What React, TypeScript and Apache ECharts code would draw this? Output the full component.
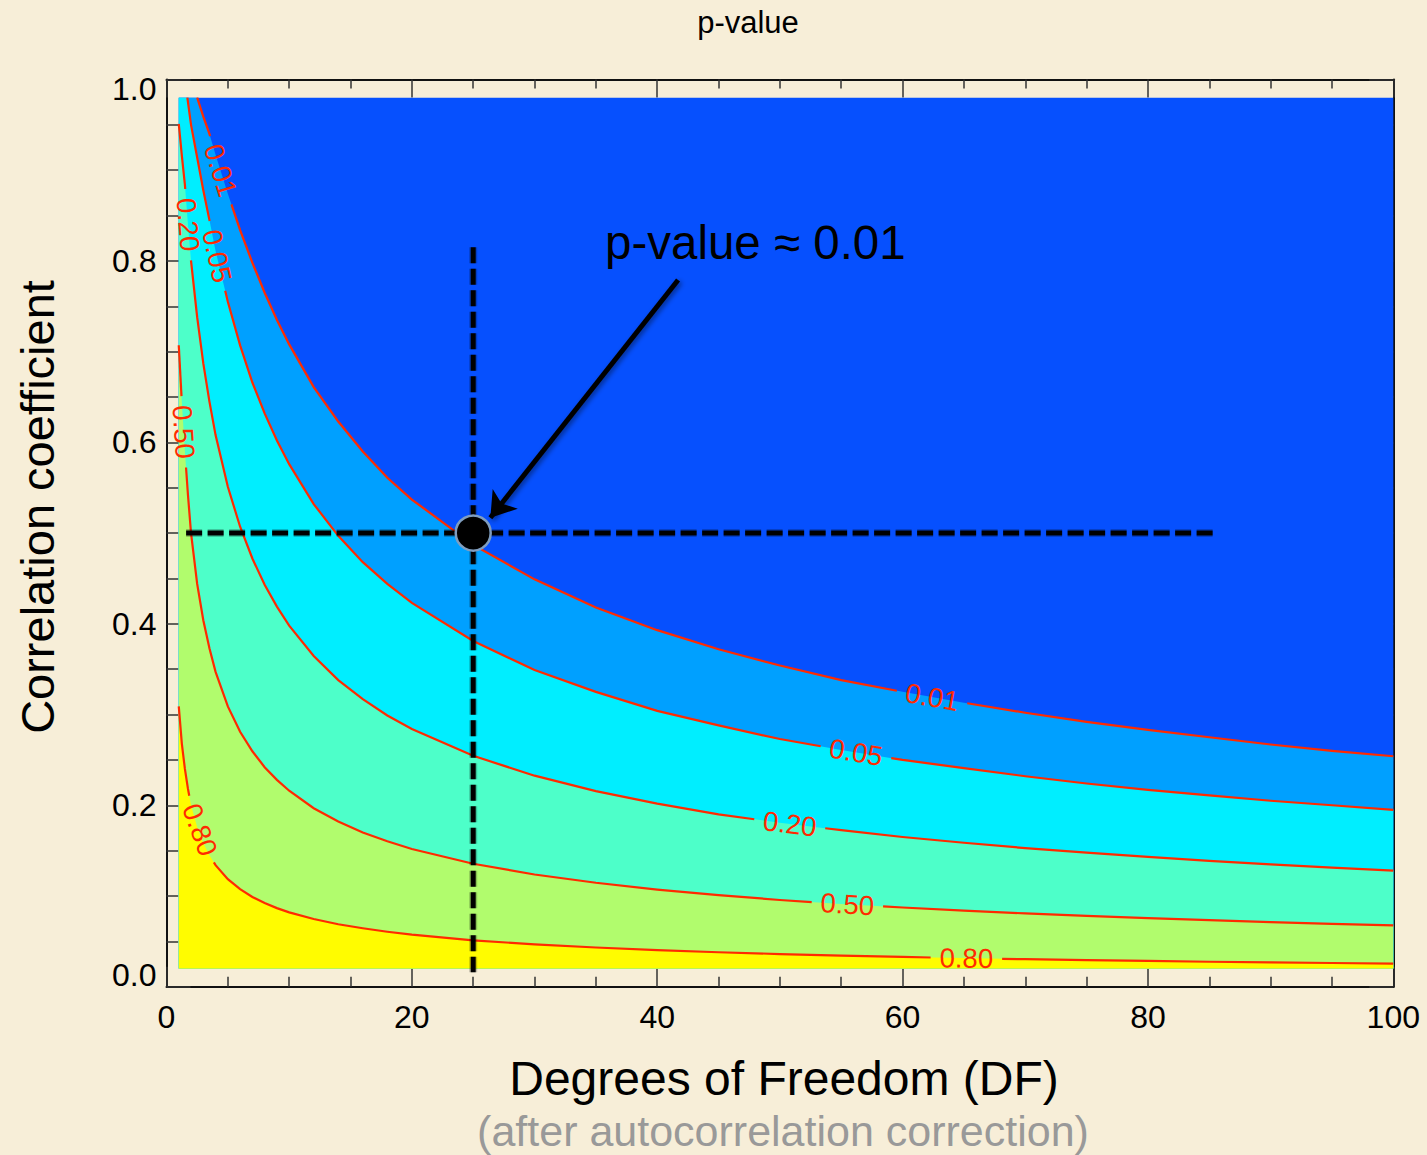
import React, { useEffect, useRef } from 'react';
import * as echarts from 'echarts';

const FONT = '"Liberation Sans", Arial, Helvetica, sans-serif';

// Contour levels (p-value) and the band colours below each contour
const levels = ['0.01', '0.05', '0.20', '0.50', '0.80'];
const topColor = '#0650FE';
const bandColors = ['#00A0FF', '#00EEFF', '#4DFFC9', '#B1FC6D', '#FFFC00'];
const lineColor = '#FF2A00';

// Extent of the computed field
const dfExtent = [1, 100];
const rExtent = [0.02, 0.98];

// Contour curves: [DF, r]
const curve001 = [[2.5,0.98],[3,0.959],[3.5,0.94],[4,0.917],[5,0.874],[6,0.834],[7,0.798],[8,0.765],[9,0.735],[10,0.708],[12,0.661],[14,0.623],[16,0.59],[18,0.561],[20,0.537],[25,0.487],[30,0.449],[35,0.418],[40,0.393],[45,0.372],[50,0.354],[55,0.338],[60,0.325],[65,0.313],[70,0.302],[75,0.292],[80,0.283],[85,0.275],[90,0.267],[95,0.26],[100,0.254]];
const curve005 = [[1.7,0.98],[2,0.95],[2.5,0.914],[3,0.878],[3.5,0.845],[4,0.811],[5,0.755],[6,0.707],[7,0.666],[8,0.632],[9,0.602],[10,0.576],[12,0.532],[14,0.497],[16,0.468],[18,0.444],[20,0.423],[25,0.381],[30,0.349],[35,0.325],[40,0.304],[45,0.288],[50,0.273],[55,0.261],[60,0.25],[65,0.241],[70,0.232],[75,0.224],[80,0.217],[85,0.211],[90,0.205],[95,0.2],[100,0.195]];
const curve020 = [[1,0.951],[1.25,0.916],[1.5,0.884],[1.75,0.84],[2,0.8],[2.5,0.738],[3,0.687],[3.5,0.645],[4,0.608],[5,0.551],[6,0.507],[7,0.472],[8,0.443],[9,0.419],[10,0.398],[12,0.3645],[14,0.338],[16,0.317],[18,0.299],[20,0.284],[25,0.2545],[30,0.2326],[35,0.2156],[40,0.2018],[45,0.19],[50,0.1807],[55,0.1725],[60,0.165],[65,0.1587],[70,0.1528],[75,0.1477],[80,0.143],[85,0.1388],[90,0.1348],[95,0.1313],[100,0.128]];
const curve050 = [[1,0.707],[1.25,0.644],[1.5,0.59],[1.75,0.542],[2,0.5],[2.5,0.444],[3,0.404],[3.5,0.373],[4,0.347],[5,0.309],[6,0.281],[7,0.2595],[8,0.242],[9,0.228],[10,0.216],[12,0.1967],[14,0.182],[16,0.17],[18,0.1603],[20,0.1518],[25,0.1355],[30,0.1237],[35,0.1146],[40,0.1071],[45,0.1009],[50,0.0956],[55,0.0912],[60,0.0873],[65,0.0838],[70,0.0808],[75,0.078],[80,0.0756],[85,0.0733],[90,0.0712],[95,0.0693],[100,0.0675]];
const curve080 = [[1,0.309],[1.25,0.268],[1.5,0.24],[1.75,0.218],[2,0.2],[2.5,0.176],[3,0.158],[3.5,0.145],[4,0.134],[5,0.1186],[6,0.1075],[7,0.0989],[8,0.0922],[9,0.0866],[10,0.0819],[12,0.0746],[14,0.0688],[16,0.0644],[18,0.0606],[20,0.0574],[25,0.0511],[30,0.0467],[35,0.0432],[40,0.0403],[45,0.038],[50,0.036],[55,0.0343],[60,0.0328],[65,0.0315],[70,0.0303],[75,0.0293],[80,0.0284],[85,0.0275],[90,0.0268],[95,0.0261],[100,0.0254]];
const contourCurves = [curve001, curve005, curve020, curve050, curve080];

// DF positions of the inline contour labels
const labelDFLeft = [4.4, 4.1, 1.75, 1.4, 2.6];
const labelDFRight = [62.4, 56.2, 50.8, 55.5, 65.2];

// Annotation
const markedPoint = [25, 0.5];
const verticalGuide = [[25, 0.815], [25, 0.016]];
const horizontalGuide = [[1.6, 0.5], [85.5, 0.5]];
const arrowCoords = [[41.7, 0.779], [26.4, 0.517]];

const xTicks = { min: 0, max: 100, interval: 20 };
const yTicks = { min: 0, max: 1, interval: 0.2 };

const LABEL_FS = 27.5;
const LABEL_PAD = 9;
const TICK_FS = 32;

function buildArc(pts: number[][]) {
  const cum = [0];
  for (let i = 1; i < pts.length; i++) {
    const dx = pts[i][0] - pts[i - 1][0];
    const dy = pts[i][1] - pts[i - 1][1];
    cum.push(cum[i - 1] + Math.sqrt(dx * dx + dy * dy));
  }
  const total = cum[cum.length - 1];
  const pointAt = (s: number) => {
    if (s <= 0) return pts[0];
    if (s >= total) return pts[pts.length - 1];
    let i = 0;
    while (i < cum.length - 2 && cum[i + 1] < s) i++;
    const seg = cum[i + 1] - cum[i] || 1;
    const f = (s - cum[i]) / seg;
    return [pts[i][0] + f * (pts[i + 1][0] - pts[i][0]), pts[i][1] + f * (pts[i + 1][1] - pts[i][1])];
  };
  const slice = (a: number, b: number) => {
    const out = [pointAt(a)];
    for (let i = 0; i < pts.length; i++) if (cum[i] > a && cum[i] < b) out.push(pts[i]);
    out.push(pointAt(b));
    return out;
  };
  return { cum, total, pointAt, slice };
}

export default function App() {
  const ref = useRef<HTMLDivElement>(null);
  useEffect(() => {
    if (!ref.current) return;
    const chart = echarts.init(ref.current, undefined, { renderer: 'svg' });

    const fillSeries = {
      type: 'custom',
      xAxisIndex: 0,
      yAxisIndex: 0,
      z: 1,
      silent: true,
      data: [topColor, ...bandColors].map(() => [50, 0.5]),
      encode: { x: 0, y: 1 },
      renderItem: (params: any, api: any) => {
        const k = params.dataIndex;
        let poly: number[][];
        if (k === 0) {
          poly = [[dfExtent[0], rExtent[0]], [dfExtent[0], rExtent[1]], [dfExtent[1], rExtent[1]], [dfExtent[1], rExtent[0]]];
        } else {
          const c = contourCurves[k - 1];
          poly = [[dfExtent[0], rExtent[0]]];
          if (c[0][0] > dfExtent[0]) poly.push([dfExtent[0], rExtent[1]]);
          c.forEach((p) => poly.push(p));
          poly.push([dfExtent[1], rExtent[0]]);
        }
        return {
          type: 'polygon',
          shape: { points: poly.map((p) => api.coord(p)) },
          style: { fill: k === 0 ? topColor : bandColors[k - 1], stroke: null, lineWidth: 0 },
        };
      },
    };

    const contourSeries = {
      type: 'custom',
      xAxisIndex: 0,
      yAxisIndex: 0,
      z: 2,
      silent: true,
      data: levels.map(() => [50, 0.5]),
      encode: { x: 0, y: 1 },
      renderItem: (params: any, api: any) => {
        const k = params.dataIndex;
        const c = contourCurves[k];
        const pts = c.map((p) => api.coord(p));
        const arc = buildArc(pts);
        const tw = LABEL_FS * 1.946;
        const h = tw / 2 + LABEL_PAD;
        const gaps: number[][] = [];
        const children: any[] = [];
        [labelDFLeft[k], labelDFRight[k]].forEach((df) => {
          let i = 0;
          while (i < c.length - 2 && c[i + 1][0] < df) i++;
          const f = (df - c[i][0]) / (c[i + 1][0] - c[i][0]);
          const s0 = arc.cum[i] + f * (arc.cum[i + 1] - arc.cum[i]);
          gaps.push([s0 - h, s0 + h]);
          const pA = arc.pointAt(s0 - h);
          const pB = arc.pointAt(s0 + h);
          const pC = arc.pointAt(s0);
          const cx = 0.5 * (pA[0] + pB[0]) * 0.5 + 0.5 * pC[0];
          const cy = 0.5 * (pA[1] + pB[1]) * 0.5 + 0.5 * pC[1];
          const ang = -Math.atan2(pB[1] - pA[1], pB[0] - pA[0]);
          children.push({
            type: 'text',
            x: cx,
            y: cy,
            rotation: ang,
            style: {
              text: levels[k],
              fill: lineColor,
              fontSize: LABEL_FS,
              fontFamily: FONT,
              align: 'center',
              verticalAlign: 'middle',
              textAlign: 'center',
              textVerticalAlign: 'middle',
            },
          });
        });
        gaps.sort((a, b) => a[0] - b[0]);
        let start = 0;
        const ranges: number[][] = [];
        gaps.forEach((g) => {
          if (g[0] > start) ranges.push([start, g[0]]);
          start = g[1];
        });
        if (start < arc.total) ranges.push([start, arc.total]);
        ranges.forEach((r) => {
          children.unshift({
            type: 'polyline',
            shape: { points: arc.slice(r[0], r[1]) },
            style: { stroke: lineColor, lineWidth: 2.2, fill: 'none' },
          });
        });
        return { type: 'group', children };
      },
    };

    const guideStyle = { color: '#000', width: 5, type: [16, 5.5] };
    const guideHalo = { color: 'rgba(0,0,0,0.22)', width: 8, type: [16, 5.5] };

    const guideSeries = (data: number[][], style: any, z: number) => ({
      type: 'line',
      xAxisIndex: 0,
      yAxisIndex: 0,
      z,
      silent: true,
      symbol: 'none',
      data,
      lineStyle: style,
    });

    const axisLineStyle = { color: '#111', width: 2 };
    const tickStyle = { color: '#333', width: 1.5 };

    const option: any = {
      animation: false,
      backgroundColor: '#F7EED8',
      grid: { left: 166.5, right: 33.7, top: 79.5, bottom: 168.3, outerBoundsMode: 'none' },
      xAxis: [
        {
          type: 'value',
          position: 'bottom',
          ...xTicks,
          axisLine: { show: true, onZero: false, lineStyle: axisLineStyle },
          axisTick: { show: true, inside: true, length: 20, lineStyle: tickStyle },
          minorTick: { show: true, splitNumber: 4, length: 10, lineStyle: tickStyle },
          splitLine: { show: false },
          axisLabel: { color: '#000', fontSize: TICK_FS, fontFamily: FONT, margin: 14 },
        },
        {
          type: 'value',
          position: 'top',
          ...xTicks,
          axisLine: { show: true, onZero: false, lineStyle: axisLineStyle },
          axisTick: { show: true, inside: true, length: 18, lineStyle: tickStyle },
          minorTick: { show: true, splitNumber: 4, length: 9, lineStyle: tickStyle },
          splitLine: { show: false },
          axisLabel: { show: false },
        },
      ],
      yAxis: [
        {
          type: 'value',
          position: 'left',
          ...yTicks,
          axisLine: { show: true, onZero: false, lineStyle: axisLineStyle },
          axisTick: { show: true, inside: true, length: 24, lineStyle: tickStyle },
          minorTick: { show: true, splitNumber: 4, length: 12, lineStyle: tickStyle },
          splitLine: { show: false },
          axisLabel: {
            color: '#000',
            fontSize: TICK_FS,
            fontFamily: FONT,
            margin: 10,
            formatter: (v: number) => {
              if (Math.abs(v - yTicks.max) < 1e-9) return '{max|' + v.toFixed(1) + '}';
              if (Math.abs(v - yTicks.min) < 1e-9) return '{min|' + v.toFixed(1) + '}';
              return v.toFixed(1);
            },
            rich: {
              max: { fontSize: TICK_FS, fontFamily: FONT, color: '#000', lineHeight: 19 },
              min: { fontSize: TICK_FS, fontFamily: FONT, color: '#000', lineHeight: 23 },
            },
            verticalAlignMinLabel: 'bottom',
            verticalAlignMaxLabel: 'top',
          },
        },
        {
          type: 'value',
          position: 'right',
          ...yTicks,
          axisLine: { show: true, onZero: false, lineStyle: axisLineStyle },
          axisTick: { show: true, inside: true, length: 24, lineStyle: tickStyle },
          minorTick: { show: true, splitNumber: 4, length: 12, lineStyle: tickStyle },
          splitLine: { show: false },
          axisLabel: { show: false },
        },
      ],
      series: [
        fillSeries,
        contourSeries,
        guideSeries(verticalGuide, guideHalo, 4),
        guideSeries(horizontalGuide, guideHalo, 4),
        guideSeries(verticalGuide, guideStyle, 5),
        guideSeries(horizontalGuide, guideStyle, 5),
        {
          type: 'lines',
          coordinateSystem: 'cartesian2d',
          xAxisIndex: 0,
          yAxisIndex: 0,
          z: 6,
          silent: true,
          symbol: ['none', 'arrow'],
          symbolSize: 24,
          data: [{ coords: arrowCoords }],
          lineStyle: {
            color: '#000',
            width: 5,
            opacity: 1,
            shadowBlur: 5,
            shadowColor: 'rgba(0,0,0,0.45)',
            shadowOffsetX: 2,
            shadowOffsetY: 2,
          },
        },
        {
          type: 'scatter',
          xAxisIndex: 0,
          yAxisIndex: 0,
          z: 7,
          silent: true,
          symbol: 'circle',
          symbolSize: 35,
          data: [markedPoint],
          itemStyle: {
            color: '#000',
            opacity: 1,
            borderColor: '#7F9DBF',
            borderWidth: 2.5,
          },
        },
      ],
      graphic: [
        {
          type: 'text',
          x: 748,
          y: 22,
          style: { text: 'p-value', fill: '#000', fontSize: 31, fontFamily: FONT, align: 'center', verticalAlign: 'middle', textAlign: 'center', textVerticalAlign: 'middle' },
        },
        {
          type: 'text',
          x: 37,
          y: 507,
          rotation: Math.PI / 2,
          style: { text: 'Correlation coefficient', fill: '#000', fontSize: 47, fontFamily: FONT, align: 'center', verticalAlign: 'middle', textAlign: 'center', textVerticalAlign: 'middle' },
        },
        {
          type: 'text',
          x: 784,
          y: 1078,
          style: { text: 'Degrees of Freedom (DF)', fill: '#000', fontSize: 48, fontFamily: FONT, align: 'center', verticalAlign: 'middle', textAlign: 'center', textVerticalAlign: 'middle' },
        },
        {
          type: 'text',
          x: 783,
          y: 1131,
          style: { text: '(after autocorrelation correction)', fill: '#999999', fontSize: 43, fontFamily: FONT, align: 'center', verticalAlign: 'middle', textAlign: 'center', textVerticalAlign: 'middle' },
        },
        {
          type: 'text',
          x: 605,
          y: 242,
          z: 10,
          style: { text: 'p-value ≈ 0.01', fill: '#000', fontSize: 47.5, fontFamily: FONT, align: 'left', verticalAlign: 'middle', textAlign: 'left', textVerticalAlign: 'middle' },
        },
      ],
    };

    chart.setOption(option);
    return () => chart.dispose();
  }, []);

  return <div ref={ref} style={{ position: 'absolute', left: 0, top: 0, width: 1427, height: 1155 }} />;
}
